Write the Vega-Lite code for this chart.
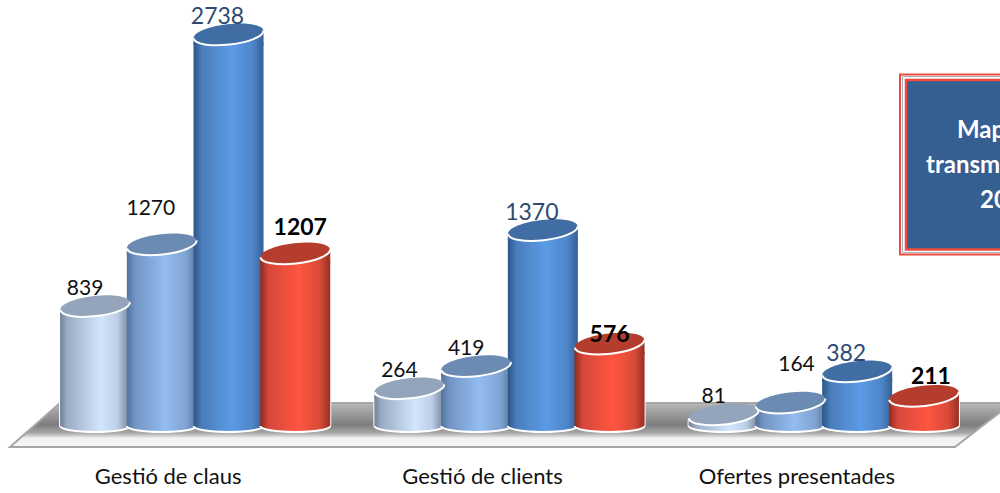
{
"$schema":"https://vega.github.io/schema/vega-lite/v6.json",
"width":1000,"height":462,
"autosize":{"type":"none"},
"padding":{"left":0,"top":0,"right":0,"bottom":31},
"background":"white",
"config":{"view":{"stroke":null},"font":"Lato"},
"datasets":{
"bars":[
{"cat":"Gestió de claus","series":"A","value":839},
{"cat":"Gestió de claus","series":"B","value":1270},
{"cat":"Gestió de claus","series":"C","value":2738},
{"cat":"Gestió de claus","series":"D","value":1207},
{"cat":"Gestió de clients","series":"A","value":264},
{"cat":"Gestió de clients","series":"B","value":419},
{"cat":"Gestió de clients","series":"C","value":1370},
{"cat":"Gestió de clients","series":"D","value":576},
{"cat":"Ofertes presentades","series":"A","value":81},
{"cat":"Ofertes presentades","series":"B","value":164},
{"cat":"Ofertes presentades","series":"C","value":382},
{"cat":"Ofertes presentades","series":"D","value":211}],
"floor":[{"edge":"back","a":60,"b":1012,"v":161},{"edge":"front","a":10,"b":955,"v":-147}],
"box":[{"a":900,"b":1010,"v1":2458,"v2":1199}],
"boxText":[{"t":"Map","a":957,"v":2063},{"t":"transm","a":926,"v":1818},{"t":"20","a":980,"v":1573}]
},
"resolve":{"scale":{"x":"independent"},"axis":{"x":"independent"}},
"encoding":{"y":{"type":"quantitative","scale":{"domain":[-251.7,2979],"nice":false,"zero":false},"axis":null}},
"layer":[
{"data":{"name":"floor"},
 "mark":{"type":"area","orient":"horizontal","stroke":"#a6a6a6","strokeWidth":2,"fill":{"gradient":"linear","x1":0,"y1":0,"x2":0,"y2":1,"stops":[{"offset":0,"color":"#b8b8b8"},{"offset":0.5,"color":"#7d7d7d"},{"offset":0.68,"color":"#a8a8a8"},{"offset":0.8,"color":"#f2f2f2"},{"offset":1,"color":"#f6f6f6"}]}},
 "encoding":{"y":{"field":"v"},"x":{"field":"a","type":"quantitative","scale":{"domain":[0,1000],"nice":false,"zero":false},"axis":null},"x2":{"field":"b"}}},
{"data":{"name":"bars"},
 "encoding":{
  "x":{"field":"cat","type":"nominal","sort":null,"title":null,"scale":{"range":[38,981],"paddingInner":0.151,"paddingOuter":0.0755},
   "axis":{"orient":"bottom","domain":false,"ticks":false,"grid":false,"labelAngle":0,"labelOffset":-27,"labelPadding":4,"labelLimit":400,"labelFont":"Lato","labelFontSize":22,"labelColor":"#111111","title":null}},
  "xOffset":{"field":"series","type":"nominal","scale":{"paddingInner":0,"paddingOuter":0}}},
 "layer":[
 {"transform":[{"filter":{"field":"series","equal":"A"}}],"mark":{"type":"point","filled":true,"shape":"M-1,0A1,0.17,0,1,1,1,0A1,0.17,0,1,1,-1,0Z","size":4900,"stroke":"white","strokeWidth":2,"opacity":1,
   "fill":{"gradient":"linear","x1":0,"y1":0,"x2":1,"y2":0,"stops":[{"offset":0,"color":"#6f8197"},{"offset":0.1,"color":"#9aacc3"},{"offset":0.58,"color":"#d2e5fe"},{"offset":0.82,"color":"#bccee6"},{"offset":1,"color":"#6f8197"}]}},
  "encoding":{"y":{"datum":0}}},
 {"transform":[{"filter":{"field":"series","equal":"B"}}],"mark":{"type":"point","filled":true,"shape":"M-1,0A1,0.17,0,1,1,1,0A1,0.17,0,1,1,-1,0Z","size":4900,"stroke":"white","strokeWidth":2,"opacity":1,
   "fill":{"gradient":"linear","x1":0,"y1":0,"x2":1,"y2":0,"stops":[{"offset":0,"color":"#52739c"},{"offset":0.12,"color":"#7295c4"},{"offset":0.55,"color":"#93bcf0"},{"offset":0.85,"color":"#80a4d2"},{"offset":1,"color":"#56779f"}]}},
  "encoding":{"y":{"datum":0}}},
 {"transform":[{"filter":{"field":"series","equal":"C"}}],"mark":{"type":"point","filled":true,"shape":"M-1,0A1,0.17,0,1,1,1,0A1,0.17,0,1,1,-1,0Z","size":4900,"stroke":"white","strokeWidth":2,"opacity":1,
   "fill":{"gradient":"linear","x1":0,"y1":0,"x2":1,"y2":0,"stops":[{"offset":0,"color":"#2d5586"},{"offset":0.12,"color":"#4a7dbb"},{"offset":0.55,"color":"#5b9be6"},{"offset":0.85,"color":"#4d85c8"},{"offset":1,"color":"#345f93"}]}},
  "encoding":{"y":{"datum":0}}},
 {"transform":[{"filter":{"field":"series","equal":"D"}}],"mark":{"type":"point","filled":true,"shape":"M-1,0A1,0.17,0,1,1,1,0A1,0.17,0,1,1,-1,0Z","size":4900,"stroke":"white","strokeWidth":2,"opacity":1,
   "fill":{"gradient":"linear","x1":0,"y1":0,"x2":1,"y2":0,"stops":[{"offset":0,"color":"#8e2a20"},{"offset":0.12,"color":"#d5483a"},{"offset":0.55,"color":"#ff5540"},{"offset":0.85,"color":"#d84a38"},{"offset":1,"color":"#983024"}]}},
  "encoding":{"y":{"datum":0}}},
 {"mark":{"type":"bar","color":"white","width":72,"yOffset":8},
  "encoding":{"y":{"field":"value","stack":null}}},
 {"mark":{"type":"point","filled":true,"shape":"M-1,0.113L1,-0.113L1,0.3L-1,0.3Z","size":5184,"color":"white","opacity":1},
  "encoding":{"y":{"field":"value"}}},
 {"transform":[{"filter":{"field":"series","equal":"A"}}],"mark":{"type":"bar","width":70,"yOffset":8,
   "fill":{"gradient":"linear","x1":0,"y1":0,"x2":1,"y2":0,"stops":[{"offset":0,"color":"#6f8197"},{"offset":0.1,"color":"#9aacc3"},{"offset":0.58,"color":"#d2e5fe"},{"offset":0.82,"color":"#bccee6"},{"offset":1,"color":"#6f8197"}]}},
  "encoding":{"y":{"field":"value","stack":null}}},
 {"transform":[{"filter":{"field":"series","equal":"A"}}],"mark":{"type":"point","filled":true,"shape":"M-1,0.113L1,-0.113L1,0.3L-1,0.3Z","size":4900,"opacity":1,
   "fill":{"gradient":"linear","x1":0,"y1":0,"x2":1,"y2":0,"stops":[{"offset":0,"color":"#6f8197"},{"offset":0.1,"color":"#9aacc3"},{"offset":0.58,"color":"#d2e5fe"},{"offset":0.82,"color":"#bccee6"},{"offset":1,"color":"#6f8197"}]}},
  "encoding":{"y":{"field":"value"}}},
 {"transform":[{"filter":{"field":"series","equal":"B"}}],"mark":{"type":"bar","width":70,"yOffset":8,
   "fill":{"gradient":"linear","x1":0,"y1":0,"x2":1,"y2":0,"stops":[{"offset":0,"color":"#52739c"},{"offset":0.12,"color":"#7295c4"},{"offset":0.55,"color":"#93bcf0"},{"offset":0.85,"color":"#80a4d2"},{"offset":1,"color":"#56779f"}]}},
  "encoding":{"y":{"field":"value","stack":null}}},
 {"transform":[{"filter":{"field":"series","equal":"B"}}],"mark":{"type":"point","filled":true,"shape":"M-1,0.113L1,-0.113L1,0.3L-1,0.3Z","size":4900,"opacity":1,
   "fill":{"gradient":"linear","x1":0,"y1":0,"x2":1,"y2":0,"stops":[{"offset":0,"color":"#52739c"},{"offset":0.12,"color":"#7295c4"},{"offset":0.55,"color":"#93bcf0"},{"offset":0.85,"color":"#80a4d2"},{"offset":1,"color":"#56779f"}]}},
  "encoding":{"y":{"field":"value"}}},
 {"transform":[{"filter":{"field":"series","equal":"C"}}],"mark":{"type":"bar","width":70,"yOffset":8,
   "fill":{"gradient":"linear","x1":0,"y1":0,"x2":1,"y2":0,"stops":[{"offset":0,"color":"#2d5586"},{"offset":0.12,"color":"#4a7dbb"},{"offset":0.55,"color":"#5b9be6"},{"offset":0.85,"color":"#4d85c8"},{"offset":1,"color":"#345f93"}]}},
  "encoding":{"y":{"field":"value","stack":null}}},
 {"transform":[{"filter":{"field":"series","equal":"C"}}],"mark":{"type":"point","filled":true,"shape":"M-1,0.113L1,-0.113L1,0.3L-1,0.3Z","size":4900,"opacity":1,
   "fill":{"gradient":"linear","x1":0,"y1":0,"x2":1,"y2":0,"stops":[{"offset":0,"color":"#2d5586"},{"offset":0.12,"color":"#4a7dbb"},{"offset":0.55,"color":"#5b9be6"},{"offset":0.85,"color":"#4d85c8"},{"offset":1,"color":"#345f93"}]}},
  "encoding":{"y":{"field":"value"}}},
 {"transform":[{"filter":{"field":"series","equal":"D"}}],"mark":{"type":"bar","width":70,"yOffset":8,
   "fill":{"gradient":"linear","x1":0,"y1":0,"x2":1,"y2":0,"stops":[{"offset":0,"color":"#8e2a20"},{"offset":0.12,"color":"#d5483a"},{"offset":0.55,"color":"#ff5540"},{"offset":0.85,"color":"#d84a38"},{"offset":1,"color":"#983024"}]}},
  "encoding":{"y":{"field":"value","stack":null}}},
 {"transform":[{"filter":{"field":"series","equal":"D"}}],"mark":{"type":"point","filled":true,"shape":"M-1,0.113L1,-0.113L1,0.3L-1,0.3Z","size":4900,"opacity":1,
   "fill":{"gradient":"linear","x1":0,"y1":0,"x2":1,"y2":0,"stops":[{"offset":0,"color":"#8e2a20"},{"offset":0.12,"color":"#d5483a"},{"offset":0.55,"color":"#ff5540"},{"offset":0.85,"color":"#d84a38"},{"offset":1,"color":"#983024"}]}},
  "encoding":{"y":{"field":"value"}}},
 {"mark":{"type":"point","filled":true,"shape":"M-0.994,0.113A1,0.29,-6.5,1,1,0.994,-0.113A1,0.29,-6.5,1,1,-0.994,0.113Z","size":4900,"opacity":1},
  "encoding":{"y":{"field":"value"},"fill":{"field":"series","type":"nominal","legend":null,"scale":{"range":["#94a5bb","#6c8bb2","#3f6da4","#b53d2e"]}}}},
 {"mark":{"type":"point","filled":false,"fill":"transparent","shape":"M-0.994,0.113A1,0.29,-6.5,0,0,0.994,-0.113","size":4900,"stroke":"white","strokeWidth":2,"opacity":1},
  "encoding":{"y":{"field":"value"}}},
 {"transform":[{"filter":{"field":"value","oneOf":[839,264,81,419]}}],
  "mark":{"type":"text","dx":-10,"dy":-17.5,"fontSize":21,"color":"#111111"},"encoding":{"y":{"field":"value"},"text":{"field":"value"}}},
 {"transform":[{"filter":{"field":"value","equal":1270}}],
  "mark":{"type":"text","dx":-11,"dy":-35,"fontSize":21,"color":"#111111"},"encoding":{"y":{"field":"value"},"text":{"field":"value"}}},
 {"transform":[{"filter":{"field":"value","equal":164}}],
  "mark":{"type":"text","dx":6,"dy":-38,"fontSize":21,"color":"#111111"},"encoding":{"y":{"field":"value"},"text":{"field":"value"}}},
 {"transform":[{"filter":{"field":"series","equal":"C"}}],
  "mark":{"type":"text","dx":-11,"dy":-17,"fontSize":23,"color":"#2d4a73"},"encoding":{"y":{"field":"value"},"text":{"field":"value"}}},
 {"transform":[{"filter":{"field":"value","equal":1207}}],
  "mark":{"type":"text","dx":5,"dy":-25.5,"fontSize":23,"fontWeight":"bold","color":"#000000"},"encoding":{"y":{"field":"value"},"text":{"field":"value"}}},
 {"transform":[{"filter":{"field":"value","equal":576}}],
  "mark":{"type":"text","dx":0,"dy":-9,"fontSize":23,"fontWeight":"bold","color":"#000000"},"encoding":{"y":{"field":"value"},"text":{"field":"value"}}},
 {"transform":[{"filter":{"field":"value","equal":211}}],
  "mark":{"type":"text","dx":7,"dy":-19,"fontSize":23,"fontWeight":"bold","color":"#000000"},"encoding":{"y":{"field":"value"},"text":{"field":"value"}}}
 ]},
{"data":{"name":"box"},
 "mark":{"type":"rect","fill":"white","stroke":"#ef4a3c","strokeWidth":2},
 "encoding":{"x":{"field":"a","type":"quantitative","scale":{"domain":[0,1000],"nice":false,"zero":false},"axis":null},"x2":{"field":"b"},"y":{"field":"v1"},"y2":{"field":"v2"}}},
{"data":{"name":"box"},
 "mark":{"type":"rect","fill":"white","stroke":"#a3b2c6","strokeWidth":1,"xOffset":2.5,"yOffset":2,"y2Offset":-2},
 "encoding":{"x":{"field":"a","type":"quantitative","scale":{"domain":[0,1000],"nice":false,"zero":false},"axis":null},"x2":{"field":"b"},"y":{"field":"v1"},"y2":{"field":"v2"}}},
{"data":{"name":"box"},
 "mark":{"type":"rect","fill":"#355e91","stroke":"#ef4a3c","strokeWidth":2.5,"xOffset":6,"yOffset":5.5,"y2Offset":-5},
 "encoding":{"x":{"field":"a","type":"quantitative","scale":{"domain":[0,1000],"nice":false,"zero":false},"axis":null},"x2":{"field":"b"},"y":{"field":"v1"},"y2":{"field":"v2"}}},
{"data":{"name":"boxText"},
 "mark":{"type":"text","align":"left","baseline":"middle","fontSize":24,"fontWeight":"bold","color":"white"},
 "encoding":{"x":{"field":"a","type":"quantitative","scale":{"domain":[0,1000],"nice":false,"zero":false},"axis":null},"y":{"field":"v"},"text":{"field":"t"}}}
]
}
